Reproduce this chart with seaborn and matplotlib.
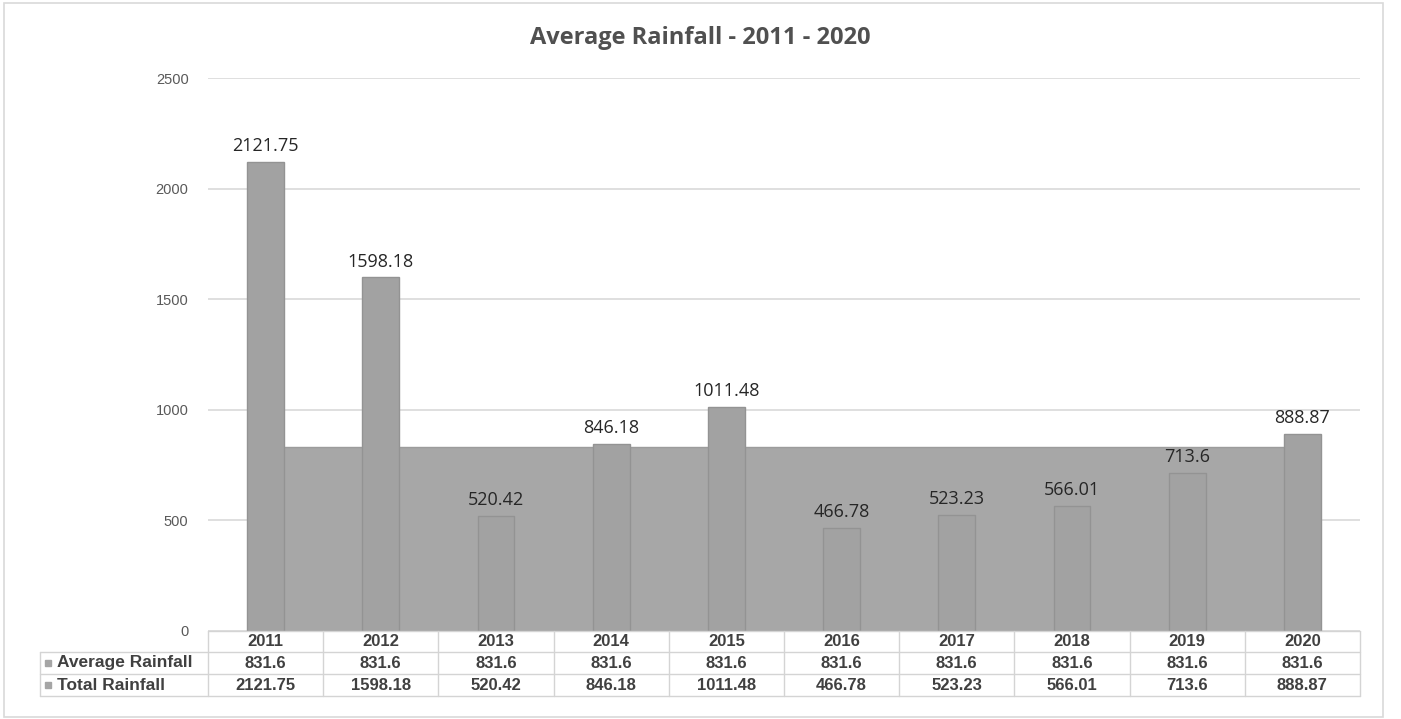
import matplotlib
matplotlib.use("Agg")
import matplotlib.pyplot as plt
import seaborn as sns
import pandas as pd
from matplotlib.lines import Line2D
from matplotlib.patches import Rectangle
from matplotlib.transforms import blended_transform_factory

years = ["2011", "2012", "2013", "2014", "2015", "2016", "2017", "2018", "2019", "2020"]
total_rainfall = [2121.75, 1598.18, 520.42, 846.18, 1011.48, 466.78, 523.23, 566.01, 713.6, 888.87]
average_rainfall = [831.6] * 10
yticks = [0, 500, 1000, 1500, 2000, 2500]

df = pd.DataFrame({"Year": years, "Total": total_rainfall, "Average": average_rainfall})

sns.set_style("white")
plt.rcParams["font.family"] = ["Liberation Sans", "DejaVu Sans"]

W, H = 1401, 719
fig = plt.figure(figsize=(W / 100, H / 100), dpi=100)
fig.patch.set_facecolor("white")


def fx(x):
    return x / W


def fy(y):
    return 1 - y / H


# plot area in pixels: x 208..1360, y 78..631
ax = fig.add_axes([fx(208), fy(631), fx(1360) - fx(208), fy(78) - fy(631)])

# average rainfall as an area, behind the bars
pos = list(range(len(years)))
ax.fill_between(pos, df["Average"], 0, color="#a7a7a7", edgecolor="#9c9c9c",
                linewidth=1, zorder=2)

sns.barplot(data=df, x="Year", y="Total", color="#a2a2a2", width=0.32,
            edgecolor="#939393", linewidth=1, saturation=1, ax=ax, zorder=3)

for i, v in enumerate(df["Total"]):
    ax.annotate(f"{v:g}", (i, v), xytext=(0, 5), textcoords="offset points",
                ha="center", va="bottom", fontsize=13, color="#262626",
                family=["Open Sans", "DejaVu Sans"], zorder=5)

ax.set_xlim(-0.5, len(years) - 0.5)
ax.set_ylim(0, 2500)
ax.set_yticks(yticks)
ax.set_yticklabels([str(t) for t in yticks], color="#595959", fontsize=10.5)
ax.tick_params(axis="y", length=0, pad=14)
ax.set_xticks([])
ax.set_xlabel("")
ax.set_ylabel("")
for s in ax.spines.values():
    s.set_visible(False)
ax.yaxis.grid(True, color="#d9d9d9", linewidth=1.2, zorder=0)
ax.set_axisbelow(True)

fig.text(0.5, fy(38), "Average Rainfall - 2011 - 2020", ha="center", va="center",
         fontsize=17, color="#505050", fontweight="bold",
         family=["Open Sans", "DejaVu Sans"])

# data table under the plot
grid_c = "#d4d4d4"
row_edges = [631, 652, 674, 696]
left_col = 40
right_edge = 1360


def hline(x0, x1, y):
    fig.add_artist(Line2D([fx(x0), fx(x1)], [fy(y), fy(y)], color=grid_c, lw=1))


def vline(x, y0, y1):
    fig.add_artist(Line2D([fx(x), fx(x)], [fy(y0), fy(y1)], color=grid_c, lw=1))


hline(208, right_edge, row_edges[0])
for y in row_edges[1:]:
    hline(left_col, right_edge, y)
vline(left_col, row_edges[1], row_edges[3])
col_w = (right_edge - 208) / len(years)
for i in range(len(years) + 1):
    vline(208 + i * col_w, row_edges[0], row_edges[3])

trans = blended_transform_factory(ax.transData, fig.transFigure)
row_mid = [(row_edges[k] + row_edges[k + 1]) / 2 for k in range(3)]
tbl_font = dict(fontsize=12, color="#404040", fontweight="bold")
for i in pos:
    fig.text(i, fy(row_mid[0]), years[i], ha="center", va="center",
             transform=trans, **tbl_font)
    fig.text(i, fy(row_mid[1]), f"{df['Average'][i]:g}", ha="center",
             va="center", transform=trans, **tbl_font)
    fig.text(i, fy(row_mid[2]), f"{df['Total'][i]:g}", ha="center",
             va="center", transform=trans, **tbl_font)

for k, name in [(1, "Average Rainfall"), (2, "Total Rainfall")]:
    fig.add_artist(Rectangle((fx(45), fy(row_mid[k] + 3)), fx(6), fy(0) - fy(6),
                             color="#a5a5a5", transform=fig.transFigure))
    fig.text(fx(57), fy(row_mid[k]), name, ha="left", va="center",
             fontsize=12.5, color="#404040", fontweight="bold")

# outer chart border
fig.add_artist(Rectangle((fx(4), fy(717)), fx(1383) - fx(4), fy(3) - fy(717),
                         fill=False, edgecolor="#d9d9d9", lw=1.2,
                         transform=fig.transFigure))

fig.savefig("out.png", dpi=100)
